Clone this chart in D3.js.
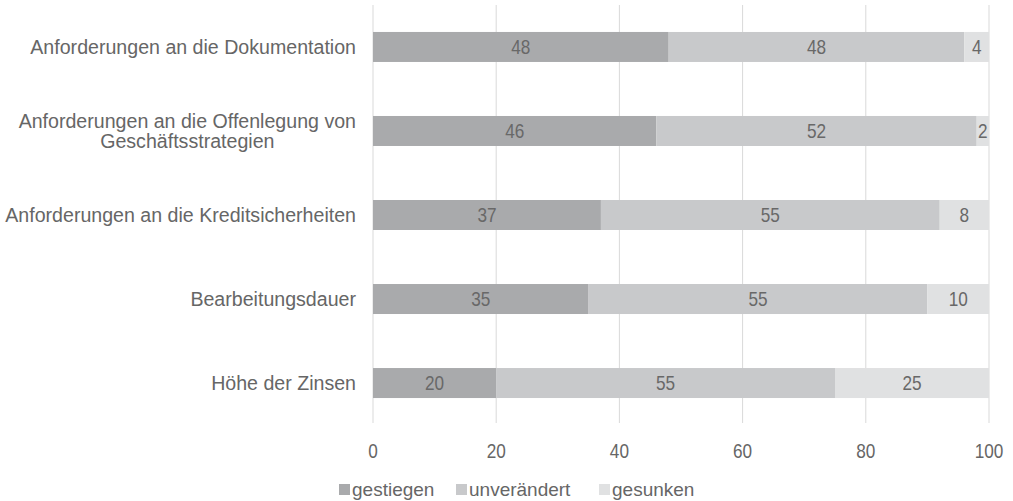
<!DOCTYPE html>
<html><head><meta charset="utf-8">
<script src="https://cdn.jsdelivr.net/npm/d3@7"></script>
<style>body{margin:0;background:#fff}svg{display:block;font-family:"Liberation Sans",Arial,sans-serif}</style>
</head><body><svg id="c" width="1013" height="501"></svg>
<script>
const categories = [["Anforderungen an die Dokumentation"],["Anforderungen an die Offenlegung von","Geschäftsstrategien"],["Anforderungen an die Kreditsicherheiten"],["Bearbeitungsdauer"],["Höhe der Zinsen"]];
const seriesNames = ["gestiegen","unverändert","gesunken"];
const gestiegen = [48,46,37,35,20];
const unveraendert = [48,52,55,55,55];
const gesunken = [4,2,8,10,25];
const ticks = [0,20,40,60,80,100];
const colors = ["#a9aaac","#c8c9cb","#e0e1e2"];

const svg = d3.select("#c");
const x = d3.scaleLinear().domain([0,100]).range([373,989]);
const y = d3.scaleBand().domain(d3.range(categories.length)).range([5,425]).paddingInner(0.643).paddingOuter(0.321);
const numSX = 0.86;

// gridlines
svg.append("g").selectAll("line").data(ticks).join("line")
  .attr("x1",d=>x(d)).attr("x2",d=>x(d)).attr("y1",5).attr("y2",423)
  .attr("stroke","#d9d9d9").attr("stroke-width",1);

const data = categories.map((c,i)=>({i, gestiegen:gestiegen[i], "unverändert":unveraendert[i], gesunken:gesunken[i]}));
const stack = d3.stack().keys(seriesNames)(data);

const g = svg.append("g");
stack.forEach((layer,k)=>{
  g.selectAll(null).data(layer).join("rect")
    .attr("x",d=>x(d[0])).attr("width",d=>x(d[1])-x(d[0]))
    .attr("y",(d,i)=>y(i)).attr("height",y.bandwidth())
    .attr("fill",colors[k]);
  g.selectAll(null).data(layer).join("text")
    .attr("transform",(d,i)=>`translate(${(x(d[0])+x(d[1]))/2},${y(i)+y.bandwidth()/2}) scale(${numSX},1)`)
    .attr("dy","0.36em").attr("text-anchor","middle")
    .attr("font-size",20).attr("fill","#686868")
    .text(d=>d[1]-d[0]);
});

// category labels
const LX = 356, LH = 20;
const cl = svg.append("g").selectAll("text").data(categories).join("text")
  .attr("font-size",19.6).attr("fill","#666")
  .attr("y",(d,i)=>y(i)+y.bandwidth()/2 - (d.length-1)*LH/2);
cl.selectAll("tspan").data(d=>d).join("tspan")
  .attr("dy",(d,j)=>j===0?"0.36em":LH)
  .text(d=>d);
cl.each(function(d){
  const ts = d3.select(this).selectAll("tspan").nodes();
  const w = d3.max(ts,t=>t.getComputedTextLength());
  ts.forEach(t=>d3.select(t).attr("text-anchor","middle").attr("x",LX-w/2));
});

// x axis labels
svg.append("g").selectAll("text").data(ticks).join("text")
  .attr("transform",d=>`translate(${x(d)},451) scale(${numSX},1)`)
  .attr("dy","0.36em").attr("text-anchor","middle")
  .attr("font-size",20).attr("fill","#666").text(d=>d);

// legend
const legX = [339,456,599];
const lg = svg.append("g").selectAll("g").data(seriesNames).join("g")
  .attr("transform",(d,i)=>`translate(${legX[i]},489)`);
lg.append("rect").attr("x",0).attr("y",-5).attr("width",11).attr("height",11).attr("fill",(d,i)=>colors[i]);
lg.append("text").attr("x",13).attr("dy","0.36em").attr("font-size",19).attr("fill","#666").text(d=>d);
</script></body></html>
